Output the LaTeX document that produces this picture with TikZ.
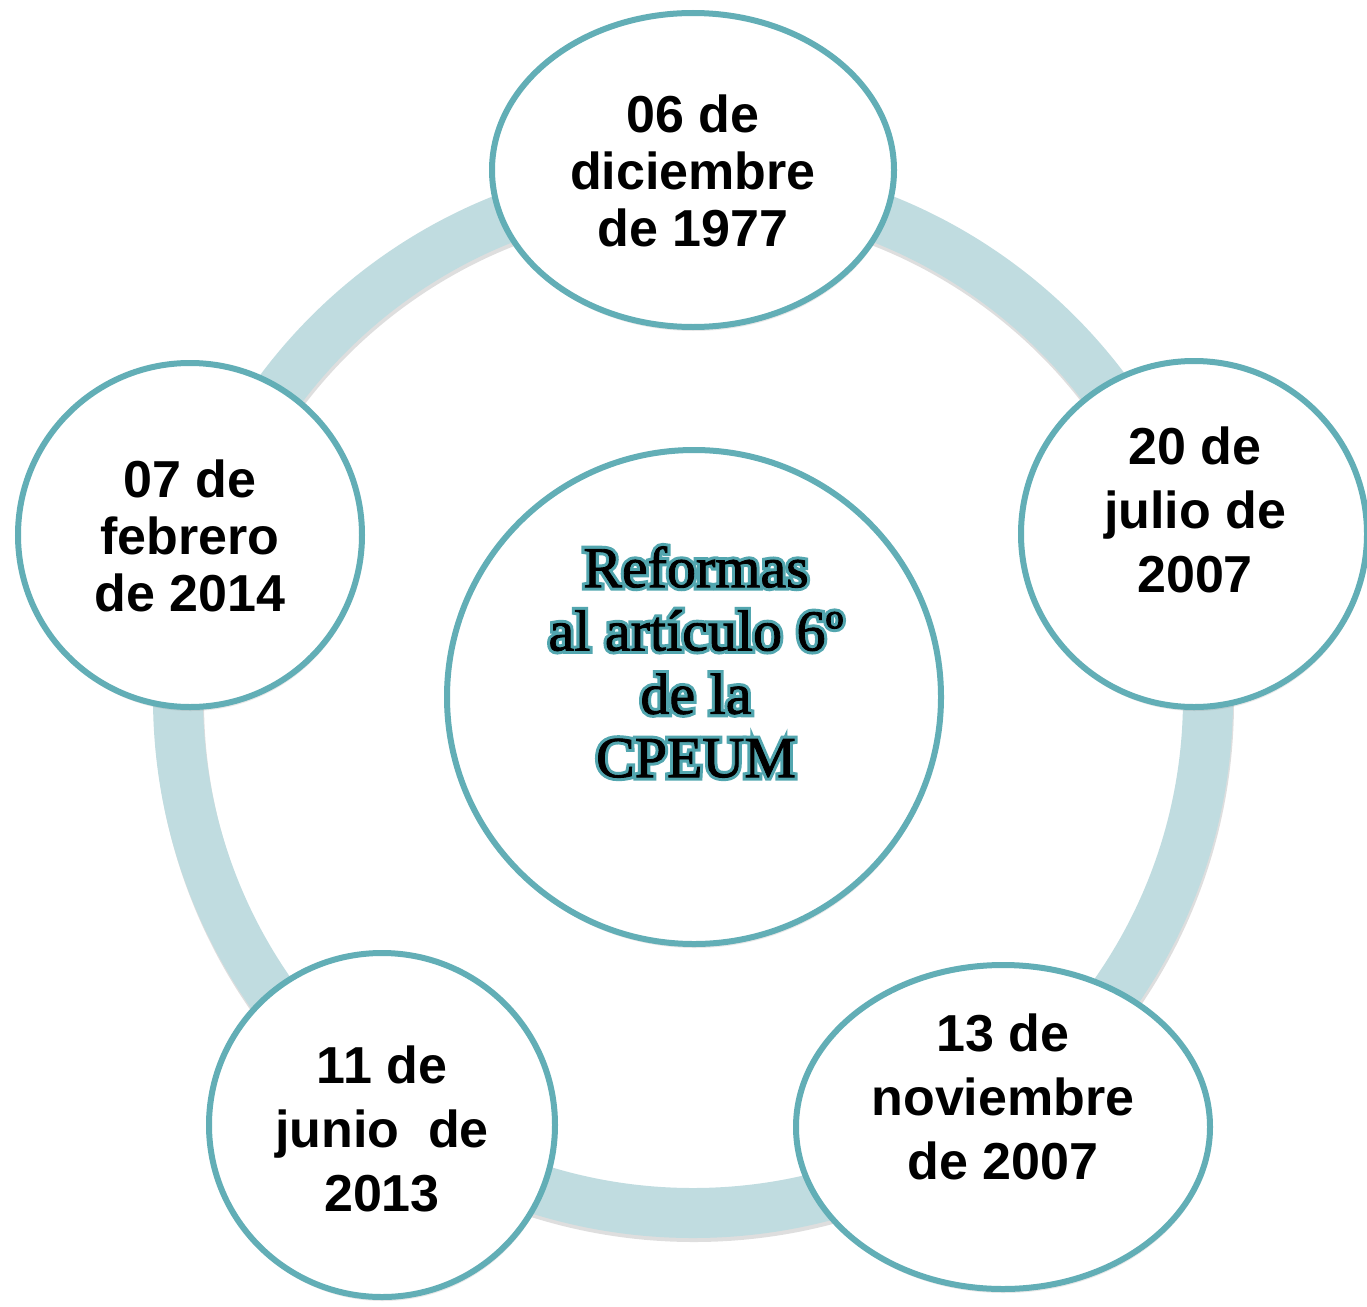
\documentclass[tikz,border=0pt]{standalone}
\usepackage{fontspec}
\setmainfont{Liberation Sans}
\newfontfamily\serifmain{Liberation Serif}[FakeBold=1.5]
\newfontfamily\serifglow{Liberation Serif}[FakeBold=12]
\usetikzlibrary{shadows,shapes.geometric}
\definecolor{ringc}{HTML}{C0DCE0}
\definecolor{rimc}{HTML}{62AEB6}
\definecolor{glowc}{HTML}{52A6AF}
\newcommand\glowln[1]{\leavevmode\rlap{\serifglow\color{glowc}#1}{\serifmain\color{black}#1}}
\tikzset{
  datenode/.style={ellipse, draw=rimc, line width=6pt, fill=white, inner sep=0pt,
    drop shadow={opacity=0.18, shadow xshift=1pt, shadow yshift=-4pt}},
  datetext/.style={font=\bfseries\fontsize{52}{57}\selectfont, align=center, inner sep=0pt},
  datetextw/.style={font=\bfseries\fontsize{52}{64}\selectfont, align=center, inner sep=0pt},
  centertext/.style={font=\serifmain\fontsize{58}{63.3}\selectfont, align=center, inner sep=0pt}
}
\begin{document}
\begin{tikzpicture}[x=1pt,y=-1pt]
\path[use as bounding box, fill=white] (0,0) rectangle (1367,1306);
% ring with its shadow
\draw[line width=50pt, black, opacity=0.13] (694,702) circle[radius=515pt];
\draw[line width=50pt, ringc] (693,698) circle[radius=515pt];
% nodes
\node[datenode, minimum width=494pt, minimum height=494pt] (ctr) at (694,697) {};
\node[datenode, minimum width=402pt, minimum height=314pt] (n1) at (693,170) {};
\node[datenode, minimum width=346pt, minimum height=346pt] (n2) at (1194,534) {};
\node[datenode, minimum width=414pt, minimum height=324pt] (n3) at (1003,1127) {};
\node[datenode, minimum width=346pt, minimum height=344pt] (n4) at (382,1125) {};
\node[datenode, minimum width=344pt, minimum height=344pt] (n5) at (190,535) {};
% texts
\node[centertext] (tc) at (696,662) {\glowln{Reformas}\\\glowln{al artículo 6º}\\\glowln{de la}\\\glowln{CPEUM}};
\node[datetext] (t1) at (693,171) {06 de\\diciembre\\de 1977};
\node[datetextw] (t2) at (1195,510) {20 de\\julio de\\2007};
\node[datetextw] (t3) at (1003,1097) {13 de\\noviembre\\de 2007};
\node[datetextw] (t4) at (382,1129) {11 de\\junio~~de\\2013};
\node[datetext] (t5) at (190,536) {07 de\\febrero\\de 2014};
\end{tikzpicture}
\end{document}
